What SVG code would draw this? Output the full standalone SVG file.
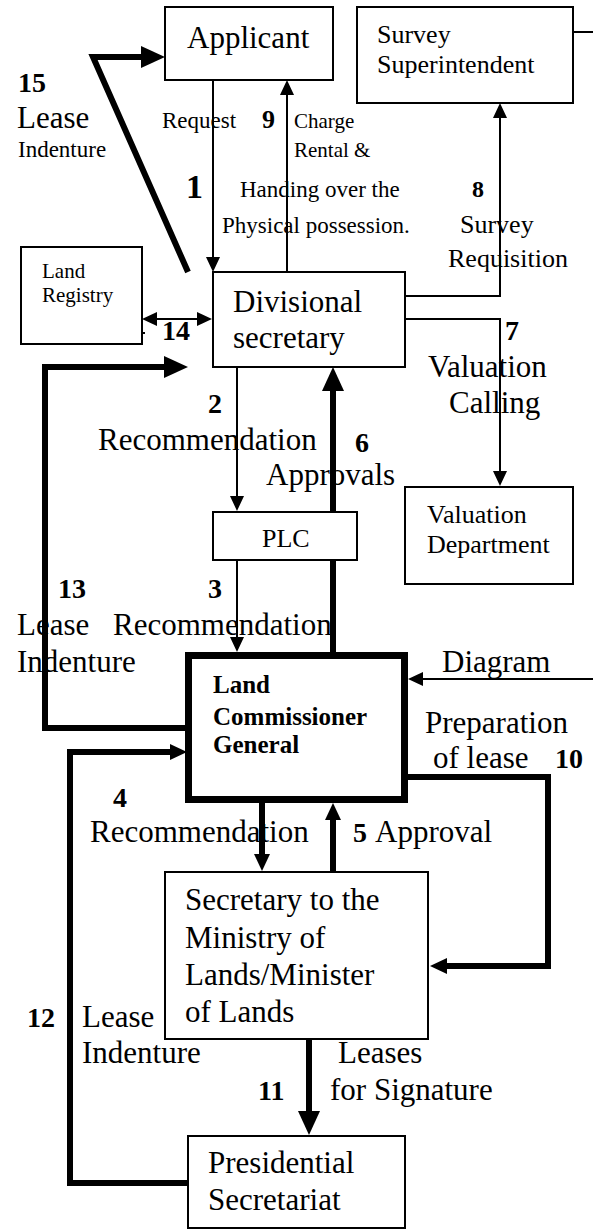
<svg xmlns="http://www.w3.org/2000/svg" width="593" height="1230" viewBox="0 0 593 1230">
<style>
.box{fill:#fff;stroke:#000;stroke-width:2}
.bold-box{fill:#fff;stroke:#000;stroke-width:7}
.thin{fill:none;stroke:#000;stroke-width:2}
.thick{fill:none;stroke:#000;stroke-width:6;stroke-linejoin:miter}
text{font-family:"Liberation Serif","Times New Roman",serif;fill:#000}
.t31{font-size:31px}
.t26{font-size:26px}
.t23{font-size:23px}
.t21{font-size:21px}
.n{font-weight:bold;font-size:28px}
.lcg{font-weight:bold;font-size:25px}
</style>
<defs>
<marker id="aThin" markerUnits="userSpaceOnUse" viewBox="0 0 15 14" refX="3" refY="7" markerWidth="15" markerHeight="14" orient="auto-start-reverse"><path d="M0,0 L15,7 L0,14 z"/></marker>
<marker id="aBig" markerUnits="userSpaceOnUse" viewBox="0 0 24 22" refX="4" refY="11" markerWidth="24" markerHeight="22" orient="auto"><path d="M0,0 L24,11 L0,22 z"/></marker>
<marker id="aMid" markerUnits="userSpaceOnUse" viewBox="0 0 17 16" refX="3" refY="8" markerWidth="17" markerHeight="16" orient="auto"><path d="M0,0 L17,8 L0,16 z"/></marker>
</defs>
<rect width="593" height="1230" fill="#fff"/>

<g id="connectors">
<path class="thick" d="M188,272 L93,57 L145,57" marker-end="url(#aBig)"/>
<path class="thin" d="M213,80 V260" marker-end="url(#aThin)"/>
<path class="thin" d="M287,272 V92" marker-end="url(#aThin)"/>
<path class="thin" d="M573,32 H593"/>
<path class="thin" d="M405,296 H500 V115" marker-end="url(#aThin)"/>
<path class="thin" d="M405,319 H500 V474" marker-end="url(#aThin)"/>
<path class="thin" d="M154,319 H200" marker-start="url(#aThin)" marker-end="url(#aThin)"/>
<path class="thin" d="M142,333 H145"/>
<path class="thin" d="M237,367 V499" marker-end="url(#aThin)"/>
<path class="thin" d="M237,560 V640" marker-end="url(#aThin)"/>
<path class="thick" d="M333,652 V387" marker-end="url(#aBig)"/>
<path class="thin" d="M593,679 H420" marker-end="url(#aThin)"/>
<path class="thick" d="M186,728 H45 V367 H168" marker-end="url(#aBig)"/>
<path class="thick" d="M406,777 H548 V966 H444" marker-end="url(#aMid)"/>
<path class="thick" d="M262,803 V857" marker-end="url(#aMid)"/>
<path class="thick" d="M333,872 V817" marker-end="url(#aMid)"/>
<path class="thick" d="M188,1183 H70 V752 H173" marker-end="url(#aMid)"/>
<path class="thick" d="M309,1039 V1115" marker-end="url(#aBig)"/>
</g>

<g id="applicant">
<rect class="box" x="165" y="7" width="168" height="73"/>
<text class="t31" x="187" y="48">Applicant</text>
</g>
<g id="survey-superintendent">
<rect class="box" x="357" y="7" width="216" height="96"/>
<text class="t26" x="377" y="43">Survey</text>
<text class="t26" x="377" y="73">Superintendent</text>
</g>
<g id="land-registry">
<rect class="box" x="21" y="247" width="121" height="97"/>
<text class="t21" x="42" y="278">Land</text>
<text class="t21" x="42" y="302">Registry</text>
</g>
<g id="divisional-secretary">
<rect class="box" x="213" y="272" width="192" height="95"/>
<text class="t31" x="233" y="312">Divisional</text>
<text class="t31" x="233" y="348">secretary</text>
</g>
<g id="plc">
<rect class="box" x="213" y="512" width="144" height="48"/>
<text class="t26" x="262" y="547">PLC</text>
</g>
<g id="valuation-department">
<rect class="box" x="405" y="487" width="168" height="97"/>
<text class="t26" x="427" y="523">Valuation</text>
<text class="t26" x="427" y="553">Department</text>
</g>
<g id="land-commissioner-general">
<rect class="bold-box" x="188.5" y="655.5" width="216" height="144"/>
<text class="lcg" x="213" y="693">Land</text>
<text class="lcg" x="213" y="725">Commissioner</text>
<text class="lcg" x="213" y="753">General</text>
</g>
<g id="secretary-ministry">
<rect class="box" x="165" y="872" width="263" height="167"/>
<text class="t31" x="185" y="910">Secretary to the</text>
<text class="t31" x="185" y="948">Ministry of</text>
<text class="t31" x="185" y="985">Lands/Minister</text>
<text class="t31" x="185" y="1022">of Lands</text>
</g>
<g id="presidential-secretariat">
<rect class="box" x="188" y="1136" width="217" height="92"/>
<text class="t31" x="208" y="1173">Presidential</text>
<text class="t31" x="208" y="1210">Secretariat</text>
</g>

<g id="labels">
<text class="n" x="18" y="92">15</text>
<text class="t31" x="17" y="128">Lease</text>
<text class="t23" x="18" y="157">Indenture</text>
<text class="t23" x="162" y="128">Request</text>
<text class="n" x="262" y="128" style="font-size:26px">9</text>
<text class="t21" x="294" y="128">Charge</text>
<text class="t21" x="294" y="157">Rental &amp;</text>
<text class="n" x="186" y="198" style="font-size:34px">1</text>
<text class="t23" x="240" y="197">Handing over the</text>
<text class="t23" x="222" y="233">Physical possession.</text>
<text class="n" x="472" y="197" style="font-size:24px">8</text>
<text class="t26" x="460" y="233">Survey</text>
<text class="t26" x="448" y="267">Requisition</text>
<text class="n" x="162" y="340">14</text>
<text class="n" x="505" y="340">7</text>
<text class="t31" x="428" y="377">Valuation</text>
<text class="t31" x="449" y="413">Calling</text>
<text class="n" x="208" y="413">2</text>
<text class="t31" x="98" y="450">Recommendation</text>
<text class="n" x="355" y="452">6</text>
<text class="t31" x="266" y="485">Approvals</text>
<text class="n" x="58" y="598">13</text>
<text class="n" x="208" y="598">3</text>
<text class="t31" x="17" y="635">Lease</text>
<text class="t31" x="113" y="635">Recommendation</text>
<text class="t31" x="17" y="672">Indenture</text>
<text class="t31" x="442" y="672">Diagram</text>
<text class="t31" x="425" y="733">Preparation</text>
<text class="t31" x="433" y="768">of lease</text>
<text class="n" x="555" y="768">10</text>
<text class="n" x="113" y="807">4</text>
<text class="t31" x="90" y="842">Recommendation</text>
<text class="n" x="353" y="842">5</text>
<text class="t31" x="375" y="842">Approval</text>
<text class="n" x="27" y="1027">12</text>
<text class="t31" x="82" y="1027">Lease</text>
<text class="t31" x="82" y="1063">Indenture</text>
<text class="t31" x="338" y="1063">Leases</text>
<text class="n" x="258" y="1100">11</text>
<text class="t31" x="330" y="1100">for Signature</text>
</g>
</svg>
